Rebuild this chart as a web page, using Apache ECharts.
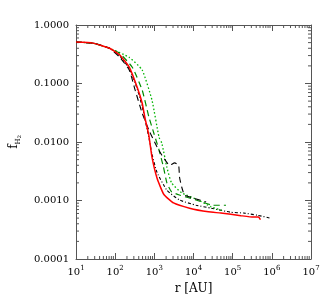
<!DOCTYPE html>
<html><head><meta charset="utf-8">
<script src="https://cdn.jsdelivr.net/npm/echarts@6/dist/echarts.min.js"></script>
<style>html,body{margin:0;padding:0;background:#fff}#c{width:332px;height:307px}</style>
</head><body><div id="c"></div>
<script>
// ---- data (r in AU, f_H2) ----
var rRed = [10, 27, 72, 129, 229, 363, 490, 575, 724, 871, 1175, 1738, 3090, 7943, 24000, 50000, 162000, 339000, 457000, 513000];
var fRed = [0.51, 0.49, 0.40, 0.31, 0.19, 0.087, 0.046, 0.026, 0.013, 0.0055, 0.0024, 0.00128, 0.00091, 0.00074, 0.00064, 0.00061, 0.00055, 0.00052, 0.00052, 0.00047];

var rBlkDash = [10, 27, 72, 129, 229, 324, 490, 724, 1175, 1549, 2455, 3311, 4169, 4400, 5000, 5900, 10000, 21000];
var fBlkDash = [0.51, 0.49, 0.40, 0.284, 0.17, 0.077, 0.031, 0.016, 0.0082, 0.0060, 0.0040, 0.0044, 0.0040, 0.0025, 0.0017, 0.00124, 0.0011, 0.00094];

var rGrnDash = [10, 27, 72, 129, 273, 490, 724, 977, 1318, 1700, 2090, 2750, 4370, 11700, 31600, 67600];
var fGrnDash = [0.51, 0.49, 0.40, 0.33, 0.19, 0.077, 0.027, 0.014, 0.0073, 0.0038, 0.0020, 0.00141, 0.00124, 0.00102, 0.00083, 0.00083];

var rGrnDot = [10, 27, 72, 229, 490, 871, 1318, 1549, 2090, 2750, 5000, 13200, 28200, 60000];
var fGrnDot = [0.51, 0.49, 0.40, 0.28, 0.17, 0.052, 0.012, 0.0096, 0.0037, 0.0020, 0.00135, 0.00102, 0.00078, 0.00066];

var rBlkDot = [10, 27, 72, 129, 229, 363, 490, 724, 871, 1175, 2090, 4370, 11700, 28200, 89000, 191000, 427000, 912000];
var fBlkDot = [0.51, 0.49, 0.40, 0.30, 0.18, 0.082, 0.040, 0.012, 0.0062, 0.0030, 0.0015, 0.00102, 0.00083, 0.00074, 0.00063, 0.00061, 0.00056, 0.00050];

var xMinorTicks = [];
var yMinorTicks = [];
[1, 2, 3, 4, 5, 6].forEach(function (e) { for (var k = 2; k <= 9; k++) xMinorTicks.push(k * Math.pow(10, e)); });
[-4, -3, -2, -1].forEach(function (e) { for (var k = 2; k <= 9; k++) yMinorTicks.push(k * Math.pow(10, e)); });

function pairs(xs, ys) { return xs.map(function (x, i) { return [x, ys[i]]; }); }

var FONT = 'DejaVu Serif';
var AX = '#555';
var chart = echarts.init(document.getElementById('c'), null, { renderer: 'canvas' });

function lineSeries(xs, ys, color, type, width) {
  return {
    type: 'line', xAxisIndex: 0, yAxisIndex: 0, data: pairs(xs, ys), showSymbol: false, smooth: 0.15,
    lineStyle: { color: color, width: width, type: type }, silent: true, animation: false
  };
}

var option = {
  animation: false,
  grid: { left: 73, right: 21, top: 25, bottom: 48, containLabel: false },
  xAxis: [{
    type: 'log', logBase: 10, min: 10, max: 1e7, splitNumber: 6, position: 'bottom',
    name: 'r [AU]', nameLocation: 'middle', nameGap: 24,
    nameTextStyle: { fontFamily: FONT, fontSize: 12, color: '#000' },
    axisLine: { lineStyle: { color: AX, width: 1 } },
    axisTick: { inside: true, length: 6, lineStyle: { color: AX } },
    splitLine: { show: false },
    axisLabel: {
      margin: 6, color: '#000', fontFamily: FONT, fontSize: 10,
      formatter: function (v) { return '{b|10}{s|' + Math.round(Math.log10(v)) + '}'; },
      rich: { b: { fontFamily: FONT, fontSize: 10, lineHeight: 14, color: '#000' },
              s: { fontFamily: FONT, fontSize: 7, lineHeight: 8, verticalAlign: 'top', color: '#000' } }
    }
  }, {
    type: 'log', logBase: 10, min: 10, max: 1e7, splitNumber: 6, position: 'top',
    axisLine: { lineStyle: { color: AX, width: 1 } },
    axisTick: { inside: true, length: 6, lineStyle: { color: AX } },
    axisLabel: { show: false }, splitLine: { show: false }
  }],
  yAxis: [{
    type: 'log', logBase: 10, min: 1e-4, max: 1, splitNumber: 4, position: 'left',
    name: '{f|f}{h|H}{t|2}', nameLocation: 'middle', nameGap: 54, nameRotate: 90,
    nameTextStyle: {
      rich: { f: { fontFamily: FONT, fontSize: 12, color: '#000', lineHeight: 16, verticalAlign: 'middle' },
              h: { fontFamily: FONT, fontSize: 7, color: '#000', lineHeight: 8, verticalAlign: 'bottom' },
              t: { fontFamily: FONT, fontSize: 5, color: '#000', lineHeight: 4, verticalAlign: 'bottom' } }
    },
    axisLine: { show: true, lineStyle: { color: AX, width: 1 } },
    axisTick: { show: true, inside: true, length: 6, lineStyle: { color: AX } },
    splitLine: { show: false },
    axisLabel: { margin: 7, color: '#000', fontFamily: FONT, fontSize: 10,
      formatter: function (v) { return v.toFixed(4); } }
  }, {
    type: 'log', logBase: 10, min: 1e-4, max: 1, splitNumber: 4, position: 'right',
    axisLine: { show: true, lineStyle: { color: AX, width: 1 } },
    axisTick: { show: true, inside: true, length: 6, lineStyle: { color: AX } },
    axisLabel: { show: false }, splitLine: { show: false }
  }],
  series: [
    {
      type: 'custom', xAxisIndex: 0, yAxisIndex: 0, silent: true, clip: false,
      data: xMinorTicks.map(function (v) { return [v, 0.01]; }),
      renderItem: function (params, api) {
        var cs = params.coordSys;
        var x = api.coord([api.value(0), 0.01])[0];
        var st = { stroke: AX, lineWidth: 1 };
        return { type: 'group', children: [
          { type: 'line', shape: { x1: x, y1: cs.y + cs.height, x2: x, y2: cs.y + cs.height - 3 }, style: st },
          { type: 'line', shape: { x1: x, y1: cs.y, x2: x, y2: cs.y + 3 }, style: st }
        ] };
      }
    },
    {
      type: 'custom', xAxisIndex: 0, yAxisIndex: 0, silent: true, clip: false,
      data: yMinorTicks.map(function (v) { return [1000, v]; }),
      renderItem: function (params, api) {
        var cs = params.coordSys;
        var y = api.coord([1000, api.value(1)])[1];
        var st = { stroke: AX, lineWidth: 1 };
        return { type: 'group', children: [
          { type: 'line', shape: { x1: cs.x, y1: y, x2: cs.x + 3, y2: y }, style: st },
          { type: 'line', shape: { x1: cs.x + cs.width, y1: y, x2: cs.x + cs.width - 3, y2: y }, style: st }
        ] };
      }
    },
    lineSeries(rBlkDot, fBlkDot, '#000', [3, 2, 1, 2], 1.1),
    lineSeries(rGrnDot, fGrnDot, '#00b400', [1.5, 2.2], 1.3),
    lineSeries(rGrnDash, fGrnDash, '#008c00', [6, 4], 1.2),
    lineSeries(rBlkDash, fBlkDash, '#000', [6, 4], 1.1),
    lineSeries(rRed, fRed, '#ff0000', 'solid', 1.5)
  ]
};
chart.setOption(option);
</script></body></html>
